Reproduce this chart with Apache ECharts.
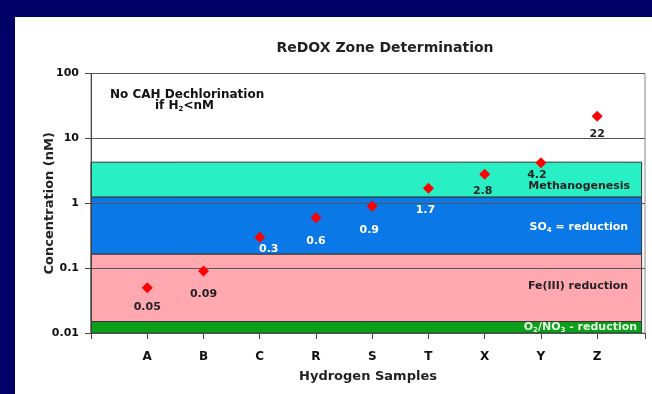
<!DOCTYPE html>
<html><head><meta charset="utf-8">
<script src="https://cdn.jsdelivr.net/npm/echarts@6/dist/echarts.min.js"></script>
<style>html,body{margin:0;padding:0;background:#fff}#c{width:652px;height:394px;position:relative}
#nt{position:absolute;left:0;top:0;width:652px;height:17px;background:#000066}
#nl{position:absolute;left:0;top:0;width:15px;height:394px;background:#000066}</style>
</head><body><div id="c"></div><div id="nt"></div><div id="nl"></div>
<script>
const categories = ['A','B','C','R','S','T','X','Y','Z'];
const concentrations = [0.05, 0.09, 0.3, 0.6, 0.9, 1.7, 2.8, 4.2, 22];
const yTicks = [0.01, 0.1, 1, 10, 100];
const zones = [
  {name: 'O{sub|2}/NO{sub|3} - reduction', from: 0.01, to: 0.015},
  {name: 'Fe(III) reduction', from: 0.015, to: 0.165},
  {name: 'SO{sub|4} = reduction', from: 0.165, to: 1.25},
  {name: 'Methanogenesis', from: 1.25, to: 4.3}
];
const zoneStyle = [
  {fill: '#0aa01a', text: '#e8ffe8', dist: 5, dy: 0},
  {fill: '#ffa8b0', text: '#222', dist: 14, dy: -2},
  {fill: '#0a78e6', text: '#fff', dist: 14, dy: 2},
  {fill: '#28f0c4', text: '#222', dist: 12, dy: 7}
];
const labelStyle = [
  {dx:0,dy:3,c:'#222'},{dx:0,dy:7,c:'#222'},{dx:9,dy:-4,c:'#fff'},
  {dx:0,dy:7,c:'#fff'},{dx:-3,dy:8,c:'#fff'},{dx:-3,dy:6,c:'#fff'},
  {dx:-2,dy:1,c:'#222'},{dx:-4,dy:-4,c:'#222'},{dx:0,dy:2,c:'#222'}
];
const font = '"DejaVu Sans", "Liberation Sans", Arial, sans-serif';
const chart = echarts.init(document.getElementById('c'), null, {renderer:'canvas'});
const scatterData = concentrations.map((v,i)=>({
  value:[i+1, v],
  label:{offset:[labelStyle[i].dx, labelStyle[i].dy], color:labelStyle[i].c}
}));
const bandData = zones.map((z,i)=>[
  {yAxis: z.from, xAxis: 0, itemStyle:{color: zoneStyle[i].fill},
   label:{formatter: z.name, color: zoneStyle[i].text, distance: zoneStyle[i].dist, offset:[0, zoneStyle[i].dy]}},
  {yAxis: z.to, xAxis: 9.79}
]);
const subRich = {sub:{fontSize:7, verticalAlign:'bottom', padding:[6,0,0,0], fontWeight:'bold', fontFamily:font}};
chart.setOption({
  animation:false,
  backgroundColor:'#fff',
  title:{text:'ReDOX Zone Determination', left:380, top:36, textAlign:'center',
    textStyle:{fontFamily:font, fontSize:14, fontWeight:'bold', color:'#222'}},
  grid:{left:91, top:73.5, right:7, bottom:61, show:true, borderColor:'#888', borderWidth:1, backgroundColor:'#fff'},
  graphic:[
    {type:'text', left:110, top:89, z:20, style:{text:'No CAH Dechlorination', font:'bold 12px '+font, fill:'#111'}},
    {type:'text', left:155, top:100, z:20, style:{text:'if H{sub|2}<nM', font:'bold 12px '+font, fill:'#111', rich:subRich}}
  ],
  xAxis:{type:'value', min:0, max:9.85, interval:1,
    name:'Hydrogen Samples', nameLocation:'middle', nameGap:37, nameMoveOverlap:false,
    nameTextStyle:{fontFamily:font, fontSize:13, fontWeight:'bold', color:'#222'},
    axisLine:{lineStyle:{color:'#444'}},
    axisTick:{show:true, length:6, lineStyle:{color:'#444'}},
    splitLine:{show:false},
    axisLabel:{margin:18, fontFamily:font, fontSize:12, fontWeight:'bold', color:'#111',
      formatter:v=>{const k=Math.round(v); return (Math.abs(v-k)<1e-6 && k>=1 && k<=categories.length)?categories[k-1]:'';}}
  },
  yAxis:{type:'log', logBase:10, min:yTicks[0], max:yTicks[yTicks.length-1], z:5,
    name:'Concentration (nM)', nameLocation:'middle', nameGap:35, nameRotate:90, nameMoveOverlap:false,
    nameTextStyle:{fontFamily:font, fontSize:13, fontWeight:'bold', color:'#222'},
    axisLine:{show:true, lineStyle:{color:'#444'}},
    axisTick:{show:true, length:6, lineStyle:{color:'#444'}},
    splitLine:{show:true, lineStyle:{color:'#555', width:1}},
    axisLabel:{margin:12, fontFamily:font, fontSize:11, fontWeight:'bold', color:'#111',
      formatter:v=>String(+v.toPrecision(3))}
  },
  series:[
    {type:'scatter', data:[], z:1, silent:true,
     markArea:{silent:true, itemStyle:{borderColor:'#333', borderWidth:1},
       label:{position:'insideRight', fontFamily:font, fontSize:11, fontWeight:'bold', rich:subRich},
       data: bandData}},
    {type:'scatter', z:10, symbol:'diamond', symbolSize:11,
     itemStyle:{color:'#ff0000', opacity:1},
     label:{show:true, position:'bottom', fontFamily:font, fontSize:11, fontWeight:'bold',
       formatter:p=>String(p.value[1])},
     data: scatterData}
  ]
});
</script></body></html>
